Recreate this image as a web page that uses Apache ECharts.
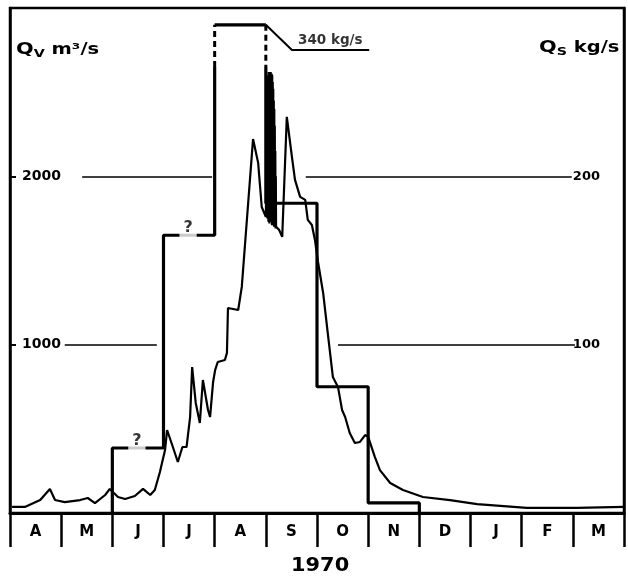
<!DOCTYPE html>
<html><head><meta charset="utf-8">
<script src="https://cdn.jsdelivr.net/npm/echarts@6/dist/echarts.min.js"></script>
<style>html,body{margin:0;padding:0;background:#fff}#c{width:628px;height:585px}</style>
</head><body><div id="c"></div>
<script>
// ---- DATA ----
const months = ['A','M','J','J','A','S','O','N','D','J','F','M'];
const yearLabel = '1970';
const qvTicks = [1000, 2000];      // left axis labels (m3/s)
const qsTicks = [100, 200];        // right axis labels (kg/s)
// Discharge Qv (m3/s); x in months since 1 April 1970
const qvMonth = [0.04,0.29,0.59,0.78,0.88,1.07,1.37,1.52,1.66,1.86,
  1.95,2.11,2.25,2.44,2.60,2.74,2.83,2.93,3.03,3.07,
  3.17,3.28,3.37,3.45,3.52,3.56,3.63,3.71,3.77,3.87,
  3.91,3.97,4.01,4.06,4.20,4.24,4.26,4.46,4.53,4.75,
  4.85,4.92,5.00,
  5.020,5.025,5.030,5.035,5.040,5.045,5.050,5.055,5.060,5.065,
  5.070,5.075,5.080,5.085,5.090,5.095,5.100,5.105,5.110,5.115,
  5.120,5.125,5.130,5.135,5.140,5.145,5.150,5.155,5.160,5.165,
  5.170,5.175,5.180,5.185,5.190,5.195,5.200,5.22,
  5.26,5.32,5.41,5.51,5.57,5.67,5.77,5.82,5.90,5.96,
  6.02,6.12,6.21,6.31,6.41,6.49,6.55,6.64,6.74,6.84,
  6.94,7.00,7.13,7.23,7.43,7.68,8.07,8.60,9.13,10.10,
  11.08,12.0];
const qvValue = [36,36,77,143,77,65,77,89,59,107,
  143,95,83,101,143,107,137,244,374,493,
  404,303,392,392,570,867,654,535,790,612,
  570,780,850,897,909,951,1218,1206,1343,2222,
  2080,1818,1759,
  1760,2330,1750,2450,1770,2600,1730,2620,1760,2580,
  1720,2610,1750,2600,1740,2620,1760,2590,1730,2610,
  1710,2600,1740,2560,1760,2520,1730,2450,1700,2400,
  1720,2300,1700,2150,1690,2000,1700,1700,
  1682,1640,2353,2115,1979,1878,1860,1741,1711,1622,
  1491,1307,1070,808,749,612,570,475,416,422,
  463,452,333,255,178,137,95,77,53,30,
  30,36];
// Sediment discharge Qs (kg/s), monthly steps starting at month index
const qsStart = [2,3,4,5,6,7];
const qsValue = [38.6,165,340,184,75,6];
const qsUncertain = [true,true,false,false,false,false];
const qsPeakText = '340 kg/s';

// ---- LAYOUT / STYLE ----
const QS_TOP = 290;       // drawn height of the off-scale step
const QS_DASH = 265;      // verticals above this are dashed
const FONT = 'DejaVu Sans';
const INK = '#000';
const gridSegs = [ // [value(m3/s), from month, to month]
  [2000,1.41,3.95],[2000,5.78,10.98],[1000,1.07,2.87],[1000,6.41,11.04]];

// build step path (solid part, dashed upper verticals)
const solid = [], dashed = [], qLabels = [];
let prevV = 0;
solid.push([qsStart[0],0]);
qsStart.forEach((s,i)=>{
  const v = Math.min(qsValue[i], QS_TOP);
  if (v > QS_DASH) { solid.push([s,QS_DASH], null); dashed.push([s,QS_DASH],[s,v], null); }
  else if (prevV > QS_DASH) { dashed.push([s,prevV],[s,QS_DASH], null); solid.push(null,[s,QS_DASH]); }
  solid.push([s,v],[s+1,v]);
  if (qsUncertain[i]) qLabels.push([s+0.48, v]);
  prevV = v;
});
solid.push([qsStart[qsStart.length-1]+1,0]);

const leader = [[5.0,QS_TOP],[5.51,275],[7.02,275]];

const chart = echarts.init(document.getElementById('c'));
const rich = {q:{fontSize:16,fontWeight:'bold',fontFamily:FONT,fill:INK},
  s:{fontSize:11,fontWeight:'bold',fontFamily:FONT,fill:INK,padding:[9,0,0,0]},
  u:{fontSize:15,fontWeight:'bold',fontFamily:FONT,fill:INK}};
chart.setOption({
  animation:false,
  backgroundColor:'#fff',
  textStyle:{fontFamily:FONT},
  grid:{left:10,right:4,top:8,bottom:72,show:true,borderColor:INK,borderWidth:2.5,backgroundColor:'transparent'},
  xAxis:[
    {type:'value',min:0,max:12,show:false},
    {type:'category',data:months,position:'bottom',boundaryGap:true,
     axisLine:{lineStyle:{color:INK,width:3}},
     axisTick:{show:true,length:34,lineStyle:{color:INK,width:2.5}},
     axisLabel:{color:INK,fontFamily:FONT,fontWeight:'bold',fontSize:15,margin:12}}
  ],
  yAxis:[
    {type:'value',min:0,max:3000,interval:1000,position:'left',splitLine:{show:false},
     axisLine:{show:true,lineStyle:{color:INK,width:2.5}},
     axisTick:{show:true,inside:true,length:6,lineStyle:{color:INK,width:2}},
     axisLabel:{inside:true,margin:12,color:INK,fontFamily:FONT,fontWeight:'bold',fontSize:14,
       formatter:v=>qvTicks.includes(v)?String(v):''}},
    {type:'value',min:0,max:300,interval:100,position:'right',splitLine:{show:false},
     axisLine:{show:true,lineStyle:{color:INK,width:2.5}},
     axisTick:{show:false},
     axisLabel:{inside:true,margin:24,color:INK,fontFamily:FONT,fontWeight:'bold',fontSize:13,
       formatter:v=>qsTicks.includes(v)?String(v):''}}
  ],
  series:[
    {type:'line',xAxisIndex:0,yAxisIndex:0,data:qvMonth.map((m,i)=>[m,qvValue[i]]),
     symbol:'none',lineStyle:{color:INK,width:2.2},z:3,
     markLine:{silent:true,symbol:'none',label:{show:false},lineStyle:{color:INK,width:1.6,type:'solid'},
       data:gridSegs.map(g=>[{coord:[g[1],g[0]]},{coord:[g[2],g[0]]}])}},
    {type:'line',xAxisIndex:0,yAxisIndex:1,data:solid,connectNulls:false,symbol:'none',
     lineStyle:{color:INK,width:3.2},z:4},
    {type:'line',xAxisIndex:0,yAxisIndex:1,data:dashed,connectNulls:false,symbol:'none',
     lineStyle:{color:INK,width:3,type:[6,4]},z:4},
    {type:'line',xAxisIndex:0,yAxisIndex:1,data:leader,symbol:'none',lineStyle:{color:INK,width:2},z:4},
    {type:'scatter',xAxisIndex:0,yAxisIndex:1,data:qLabels,symbolSize:1,itemStyle:{color:'rgba(0,0,0,0)'},z:6,
     label:{show:true,position:'inside',offset:[0,-7],formatter:'?',color:INK,fontFamily:FONT,fontWeight:'bold',fontSize:16,
       backgroundColor:'#fff',padding:[0,4,2,4]}},
    {type:'scatter',xAxisIndex:0,yAxisIndex:1,data:[[6.26,275]],symbolSize:1,itemStyle:{color:'rgba(0,0,0,0)'},z:6,
     label:{show:true,position:'top',distance:2,formatter:qsPeakText,color:INK,fontFamily:FONT,fontWeight:'bold',fontSize:13.5}}
  ],
  graphic:[
    {type:'text',x:16,y:40,scaleX:1.3,style:{rich:rich,text:'{q|Q}{s|V}{u| m³/s}'}},
    {type:'text',x:539,y:38,scaleX:1.3,z:-1,style:{rich:rich,text:'{q|Q}{s|S}{u| kg/s}'}},
    {type:'text',x:604,y:-11,style:{text:'300',fontSize:14,fontWeight:'bold',fontFamily:FONT,fill:INK}},
    {type:'text',x:291,y:557,scaleX:1.1,style:{text:yearLabel,fontSize:19,fontWeight:'bold',fontFamily:FONT,fill:INK}}
  ]
});
</script></body></html>
